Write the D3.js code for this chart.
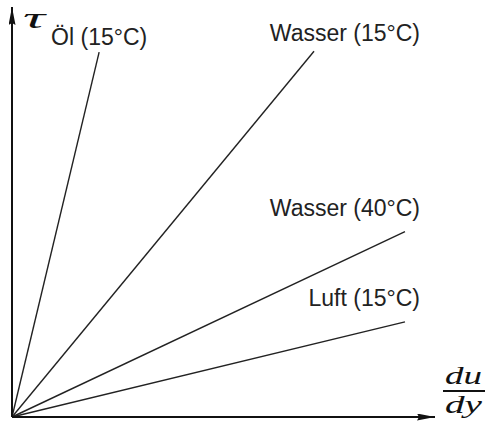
<!DOCTYPE html>
<html>
<head>
<meta charset="utf-8">
<title>Newtonsche Fluide</title>
<style>
  body { margin: 0; background: #fff; }
  svg { display: block; }
  .lbl { font-family: "Liberation Sans", Arial, sans-serif; font-size: 23px; fill: #222; }
  .math { font-family: "Liberation Serif", "DejaVu Serif", serif; font-style: italic; fill: #111; }
</style>
</head>
<body>
<svg width="486" height="426"></svg>
<script src="https://d3js.org/d3.v7.min.js"></script>
<script>
// fluids, with the end point of each line (shear rate du/dy, shear stress tau)
var fluids = ["Öl (15°C)", "Wasser (15°C)", "Wasser (40°C)", "Luft (15°C)"];
var rateEnd = [2.06, 7.14, 9.29, 9.29];
var tauEnd = [8.90, 8.92, 4.52, 2.32];

var svg = d3.select("svg"),
    ox = 12, oy = 417;

var x = d3.scaleLinear().domain([0, 10]).range([ox, 435]);
var y = d3.scaleLinear().domain([0, 10]).range([oy, 7]);

// arrow heads
var defs = svg.append("defs");
defs.append("marker")
    .attr("id", "arrow")
    .attr("viewBox", "0 0 18 7")
    .attr("refX", 18)
    .attr("refY", 3.5)
    .attr("markerWidth", 18)
    .attr("markerHeight", 7)
    .attr("markerUnits", "userSpaceOnUse")
    .attr("orient", "auto")
  .append("path")
    .attr("d", "M0,0 L18,3.5 L0,7 L2,3.5 Z")
    .attr("fill", "#111");

// lines first, axes on top
fluids.forEach(function (name, i) {
    svg.append("line")
        .attr("x1", x(0)).attr("y1", y(0))
        .attr("x2", x(rateEnd[i])).attr("y2", y(tauEnd[i]))
        .attr("stroke", "#222")
        .attr("stroke-width", 1.4);

    var ex = x(rateEnd[i]), ey = y(tauEnd[i]);
    var t = svg.append("text").attr("class", "lbl").text(name);
    if (i === 0) {
        t.attr("x", ex).attr("y", ey - 7).attr("text-anchor", "middle");
    } else {
        t.attr("x", 420).attr("y", ey - (i === 1 ? 10 : 16)).attr("text-anchor", "end");
    }
});

// x axis
svg.append("line")
    .attr("x1", x(0)).attr("y1", y(0))
    .attr("x2", x(10)).attr("y2", y(0))
    .attr("stroke", "#111")
    .attr("stroke-width", 2)
    .attr("marker-end", "url(#arrow)");

// y axis
svg.append("line")
    .attr("x1", x(0)).attr("y1", y(0))
    .attr("x2", x(0)).attr("y2", y(10))
    .attr("stroke", "#111")
    .attr("stroke-width", 2)
    .attr("marker-end", "url(#arrow)");

// tau label
svg.append("text")
    .attr("class", "math")
    .attr("x", 23).attr("y", 28)
    .attr("textLength", 22)
    .attr("lengthAdjust", "spacingAndGlyphs")
    .style("font-size", "30px")
    .text("τ");

// du/dy label
var fx = 464;
svg.append("text").attr("class", "math")
    .attr("x", fx - 19).attr("y", 384)
    .attr("textLength", 37)
    .attr("lengthAdjust", "spacingAndGlyphs")
    .style("font-size", "25px")
    .text("du");
svg.append("line")
    .attr("x1", fx - 21).attr("x2", fx + 21)
    .attr("y1", 391).attr("y2", 391)
    .attr("stroke", "#111")
    .attr("stroke-width", 2);
svg.append("text").attr("class", "math")
    .attr("x", fx - 19).attr("y", 413)
    .attr("textLength", 37)
    .attr("lengthAdjust", "spacingAndGlyphs")
    .style("font-size", "25px")
    .text("dy");
</script>
</body>
</html>
